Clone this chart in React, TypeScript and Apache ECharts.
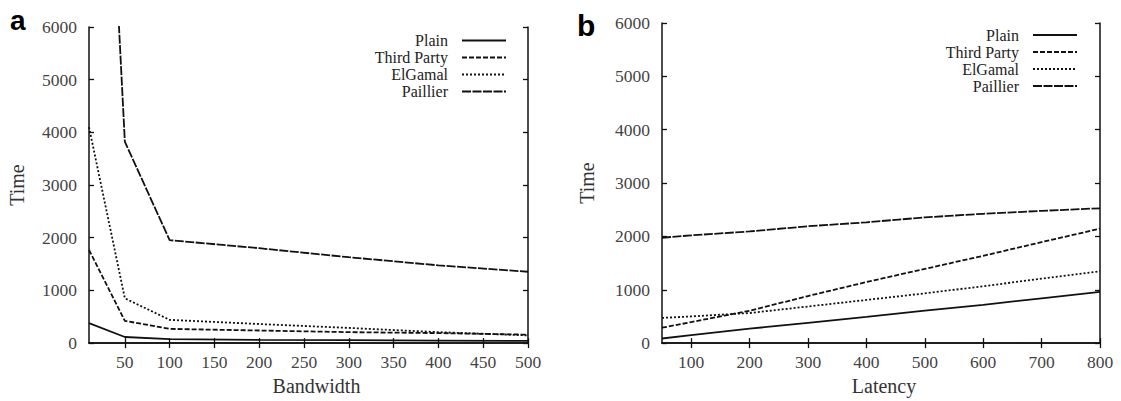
import React, { useEffect, useRef } from "react";
import * as echarts from "echarts";

// ---- Data ----
const seriesNames = ["Plain", "Third Party", "ElGamal", "Paillier"];

// Panel a: Time vs Bandwidth
const bandwidth = [10, 50, 100, 200, 300, 400, 500];
const bwPlain = [380, 116, 74, 62, 55, 48, 43];
const bwThirdParty = [1770, 423, 270, 239, 208, 190, 160];
const bwElGamal = [4100, 851, 441, 362, 288, 208, 147];
const bwPaillier = [17200, 3823, 1954, 1801, 1630, 1476, 1354];
const bandwidthTicks = [50, 100, 150, 200, 250, 300, 350, 400, 450, 500];

// Panel b: Time vs Latency
const latency = [50, 100, 200, 300, 400, 500, 600, 700, 800];
const latPlain = [86, 150, 270, 380, 491, 607, 717, 840, 961];
const latThirdParty = [288, 394, 607, 882, 1145, 1391, 1636, 1893, 2145];
const latElGamal = [472, 500, 564, 686, 809, 932, 1066, 1208, 1348];
const latPaillier = [1975, 2020, 2093, 2190, 2264, 2356, 2424, 2479, 2527];
const latencyTicks = [100, 200, 300, 400, 500, 600, 700, 800];

const timeMin = 0;
const timeMax = 6000;
const timeInterval = 1000;

const FONT = "Liberation Serif";
const dashTypes: any[] = ["solid", [5, 2], [2, 2], [9, 1.5]];

function pair(xs: number[], ys: number[]) {
  return xs.map((x, i) => [x, ys[i]]);
}

export default function App() {
  const ref = useRef<HTMLDivElement>(null);

  useEffect(() => {
    document.body.style.margin = "0";
    if (!ref.current) return;
    const chart = echarts.init(ref.current, undefined, { renderer: "svg" });

    const axisLine = { show: true, lineStyle: { color: "#111", width: 1.5 } };
    const tickStyle = { lineStyle: { color: "#111", width: 1.3 } };
    const labelStyle = {
      fontFamily: FONT,
      fontSize: 17.5,
      color: "#444",
      formatter: (v: number) => String(v),
    };

    const xPair = (grid: number, min: number, max: number, ticks: number[], name: string, namePad: number[]) => [
      {
        type: "value",
        gridIndex: grid,
        position: "bottom",
        min,
        max,
        name,
        nameLocation: "middle",
        nameGap: 30,
        nameTextStyle: { fontFamily: FONT, fontSize: 20, color: "#333", padding: namePad },
        axisLine,
        axisTick: { show: true, inside: true, length: 5, customValues: ticks, ...tickStyle },
        axisLabel: { show: true, margin: 10, customValues: ticks, ...labelStyle },
        splitLine: { show: false },
      },
      {
        type: "value",
        gridIndex: grid,
        position: "top",
        min,
        max,
        axisLine,
        axisTick: { show: true, inside: true, length: 5, customValues: ticks, ...tickStyle },
        axisLabel: { show: false },
        splitLine: { show: false },
      },
    ];

    const yPair = (grid: number, nameGap: number) => [
      {
        type: "value",
        gridIndex: grid,
        position: "left",
        min: timeMin,
        max: timeMax,
        interval: timeInterval,
        name: "Time",
        nameLocation: "middle",
        nameRotate: 90,
        nameGap,
        nameTextStyle: { fontFamily: FONT, fontSize: 20, color: "#333" },
        axisLine,
        axisTick: { show: true, inside: true, length: 5, ...tickStyle },
        axisLabel: { show: true, margin: 12, ...labelStyle },
        splitLine: { show: false },
      },
      {
        type: "value",
        gridIndex: grid,
        position: "right",
        min: timeMin,
        max: timeMax,
        interval: timeInterval,
        axisLine,
        axisTick: { show: true, inside: true, length: 5, ...tickStyle },
        axisLabel: { show: false },
        splitLine: { show: false },
      },
    ];

    const makeSeries = (xAxisIndex: number, yAxisIndex: number, xs: number[], ys: number[][]) =>
      ys.map((vals, i) => ({
        type: "line",
        name: seriesNames[i],
        xAxisIndex,
        yAxisIndex,
        data: pair(xs, vals),
        symbol: "none",
        clip: true,
        lineStyle: { color: "#111", width: 1.8, type: dashTypes[i] },
        itemStyle: { color: "#111" },
      }));

    const legend = (right: number, top: number) => ({
      show: true,
      orient: "vertical",
      align: "right",
      right,
      top,
      padding: 0,
      itemGap: 0,
      itemWidth: 44,
      itemHeight: 10,
      selectedMode: false,
      data: seriesNames,
      itemStyle: { color: "transparent", borderWidth: 0, opacity: 0 },
      textStyle: { fontFamily: FONT, fontSize: 16, color: "#222", lineHeight: 17, padding: [0, 9, 0, 0] },
    });

    chart.setOption({
      animation: false,
      backgroundColor: "#fff",
      grid: [
        { left: 89, top: 27, width: 439, height: 326 },
        { left: 662, top: 23, width: 438, height: 326 },
      ],
      xAxis: [
        ...xPair(0, 10, 500, bandwidthTicks, "Bandwidth", [0, 0, 0, 16]),
        ...xPair(1, 50, 800, latencyTicks, "Latency", [0, 0, 0, 6]),
      ],
      yAxis: [...yPair(0, 62), ...yPair(1, 65)],
      legend: [legend(1121 - 507, 32), legend(1121 - 1078, 26.5)],
      graphic: [
        {
          type: "text",
          left: 10,
          top: 6,
          style: { text: "a", font: "bold 28px 'Liberation Sans'", fill: "#000" },
        },
        {
          type: "text",
          left: 577,
          top: 10,
          style: { text: "b", font: "bold 30px 'Liberation Sans'", fill: "#000" },
        },
      ],
      series: [
        ...makeSeries(0, 0, bandwidth, [bwPlain, bwThirdParty, bwElGamal, bwPaillier]),
        ...makeSeries(2, 2, latency, [latPlain, latThirdParty, latElGamal, latPaillier]),
      ],
    });

    return () => chart.dispose();
  }, []);

  return <div ref={ref} style={{ width: 1121, height: 401 }} />;
}
